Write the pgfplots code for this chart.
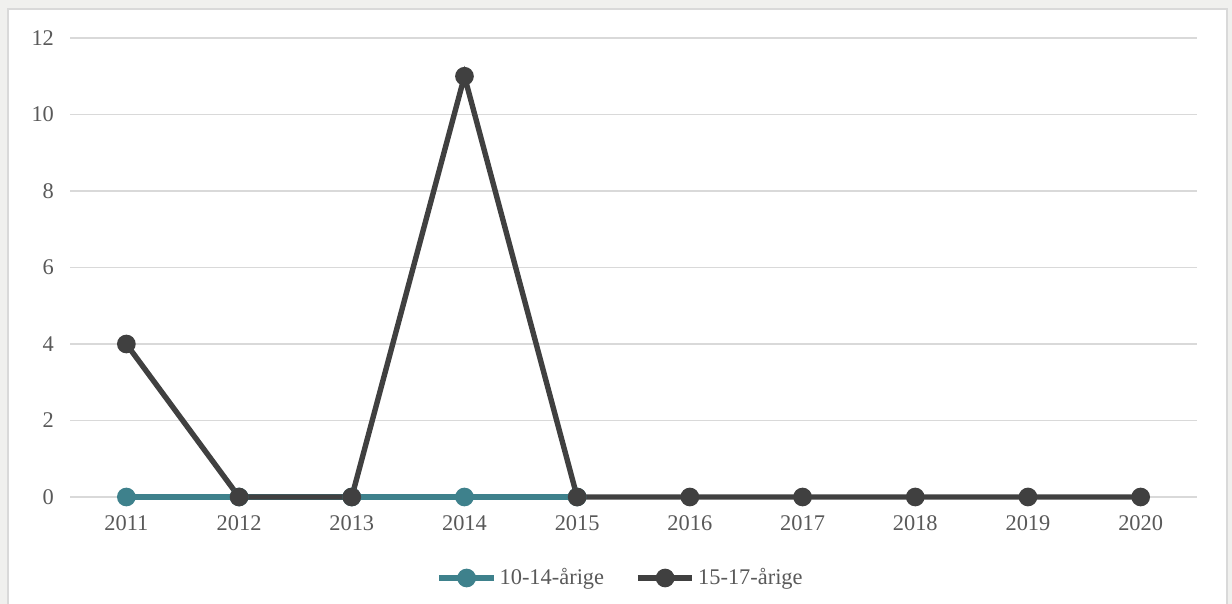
\documentclass[border=0pt]{standalone}
\usepackage{pgfplots}
\pgfplotsset{compat=1.18}
\usepackage{fontspec}
\setmainfont{Liberation Serif}
\definecolor{teal1}{HTML}{3E818C}
\definecolor{dark1}{HTML}{404040}
\definecolor{gridc}{HTML}{D9D9D9}
\definecolor{txt}{HTML}{595959}
\definecolor{bgc}{HTML}{F0F0EE}
\begin{document}
\begin{tikzpicture}
\fill[bgc] (0,0) rectangle (616pt,302pt);
\useasboundingbox (0,0) rectangle (616pt,302pt);
\fill[white] (4pt,0pt) rectangle (613.5pt,297.5pt);
\draw[gridc, line width=0.8pt] (4pt,0pt) -- (4pt,297.5pt) -- (613.5pt,297.5pt) -- (613.5pt,0pt);
\begin{axis}[
  at={(35pt,53.5pt)}, anchor=south west,
  scale only axis, width=563.5pt, height=229.5pt,
  xmin=-0.5, xmax=9.5, ymin=0, ymax=12,
  xtick={0,...,9},
  xticklabels={2011,2012,2013,2014,2015,2016,2017,2018,2019,2020},
  ytick={0,2,4,6,8,10,12},
  axis line style={draw=none},
  tick style={draw=none},
  ymajorgrids, grid style={gridc, line width=0.8pt},
  tick label style={font=\fontsize{11.2}{13}\selectfont, text=txt},
  /pgf/number format/assume math mode=true,
  xticklabel style={yshift=-6pt},
  yticklabel style={xshift=-4.5pt},
  clip=false,
  legend style={at={(0.489,-0.1765)}, anchor=center, draw=none, fill=none,
    legend columns=2, font=\fontsize{11.2}{13}\selectfont, text=txt,
    nodes={inner xsep=1.5pt},
    /tikz/every even column/.append style={column sep=14pt}},
  legend cell align=left,
  legend image code/.code={\draw[mark repeat=2,mark phase=2,#1] plot coordinates {(0cm,0cm) (0.48cm,0cm) (0.96cm,0cm)};},
]
\addplot[teal1, line width=2.7pt, mark=*, mark size=3.3pt, mark options={solid}] coordinates {(0,0) (1,0) (2,0) (3,0) (4,0)};
\addlegendentry{10-14-årige}
\addplot[dark1, line width=2.7pt, mark=*, mark size=3.3pt, mark options={solid}] coordinates {(0,4) (1,0) (2,0) (3,11) (4,0) (5,0) (6,0) (7,0) (8,0) (9,0)};
\addlegendentry{15-17-årige}
\end{axis}
\end{tikzpicture}
\end{document}
